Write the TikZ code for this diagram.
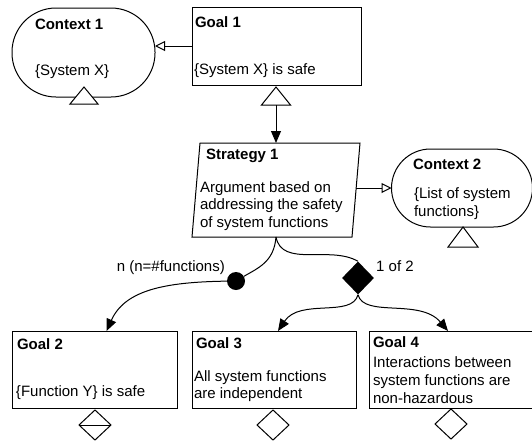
\documentclass[tikz,border=0pt]{standalone}
\usepackage{fontspec}
\setmainfont{Liberation Sans}
\usetikzlibrary{arrows.meta,shapes.geometric}
\begin{document}
\begin{tikzpicture}[x=1pt,y=-1pt,
  font=\fontsize{15}{18}\selectfont,
  boxline/.style={draw, line width=1pt, fill=white, inner sep=0pt, outer sep=0pt},
  goalbox/.style={boxline, rectangle},
  txt/.style={anchor=base west, inner sep=0pt, outer sep=0pt},
  ttl/.style={txt, font=\fontsize{15}{18}\selectfont\bfseries},
  conn/.style={line width=1pt},
  solidhead/.style={conn, -{Triangle[length=12pt,width=10pt]}},
  openhead/.style={conn, -{Triangle[open,length=10pt,width=10pt,fill=white]}},
  deco/.style={draw, line width=1pt, fill=white}
]
\useasboundingbox (0,0) rectangle (532,445);

% Context 1
\node[boxline, minimum width=143pt, minimum height=89pt, rounded corners=44pt] (c1) at (83.5,52.5) {};
\node[ttl] (c1t) at (35,29) {Context 1};
\node[txt] (c1b) at (35,75) {\{System X\}};
\path[deco] (84,87) -- (98,104) -- (70,104) -- cycle;

% Goal 1
\node[goalbox, minimum width=169pt, minimum height=78pt] (g1) at (276.5,46) {};
\node[ttl] (g1t) at (195,27) {Goal 1};
\node[txt] (g1b) at (194,74) {\{System X\} is safe};
\path[deco] (276,87) -- (290.5,105) -- (261.5,105) -- cycle;
\coordinate (g1s) at (276,105);

\draw[openhead] (g1.west) -- (g1.west -| c1.east);

% Strategy 1
\node[inner sep=0pt, outer sep=0pt, minimum width=168pt, minimum height=94pt] (s1) at (276,190) {};
\draw[line width=1pt, fill=white] (200,143) -- (360,143) -- (352,237) -- (192,237) -- cycle;
\node[ttl] (s1t) at (206,159) {Strategy 1};
\node[txt] (s1a) at (200,192) {Argument based on};
\node[txt] (s1b) at (200,209.5) {addressing the safety};
\node[txt] (s1c) at (200,227) {of system functions};

\draw[solidhead] (g1s) -- (s1.north);

% Context 2
\node[boxline, minimum width=141pt, minimum height=78pt, rounded corners=39pt] (c2) at (462,188) {};
\node[ttl] (c2t) at (413,169) {Context 2};
\node[txt] (c2a) at (414,198) {\{List of system};
\node[txt] (c2b) at (414,216) {functions\}};
\path[deco] (463,227) -- (478,247) -- (448,247) -- cycle;

\draw[openhead] ([xshift=-4pt]s1.east |- c2.west) -- (c2.west);

% multiplicity / option
\node[circle, fill=black, inner sep=0pt, minimum size=18pt] (mc) at (236,281) {};
\node[diamond, fill=black, inner sep=0pt, minimum width=32pt, minimum height=33pt] (od) at (358,278) {};
\node[anchor=base east, inner sep=0pt] (ml) at (225,271) {n (n=\#functions)};
\node[anchor=base west, inner sep=0pt] (ol) at (376,271) {1 of 2};

\draw[conn] (s1.south) .. controls (274,262) and (258,268) .. (mc);
\draw[conn] (s1.south) .. controls (282,268) and (330,245) .. (od.north);

% Goals 2-4
\node[goalbox, minimum width=165pt, minimum height=77pt] (g2) at (94.5,369.5) {};
\node[ttl] (g2t) at (17,349) {Goal 2};
\node[txt] (g2b) at (16,396) {\{Function Y\} is safe};

\node[goalbox, minimum width=164pt, minimum height=77pt] (g3) at (274,369.5) {};
\node[ttl] (g3t) at (196,348) {Goal 3};
\node[txt] (g3a) at (194,381) {All system functions};
\node[txt] (g3b) at (194,398.5) {are independent};

\node[goalbox, minimum width=172pt, minimum height=77pt] (g4) at (455,369.5) {};
\node[ttl] (g4t) at (373,347) {Goal 4};
\node[txt] (g4a) at (373,367) {Interactions between};
\node[txt] (g4b) at (373,385) {system functions are};
\node[txt] (g4c) at (373,403) {non-hazardous};

\draw[solidhead] (mc) .. controls (165,282) and (125,290) .. ([xshift=12pt]g2.north);
\draw[solidhead] (od.south) .. controls (352,318) and (300,298) .. ([xshift=4pt]g3.north);
\draw[solidhead] (od.south) .. controls (364,318) and (420,298) .. ([xshift=-7pt]g4.north);

% undeveloped markers
\path[deco] (95,410) -- (111,425) -- (95,440) -- (79,425) -- cycle;
\draw[line width=1pt] (79,425) -- (111,425);
\path[deco] (273,410) -- (289,425) -- (273,440) -- (257,425) -- cycle;
\path[deco] (451,409) -- (467,424) -- (451,439) -- (435,424) -- cycle;
\end{tikzpicture}
\end{document}
